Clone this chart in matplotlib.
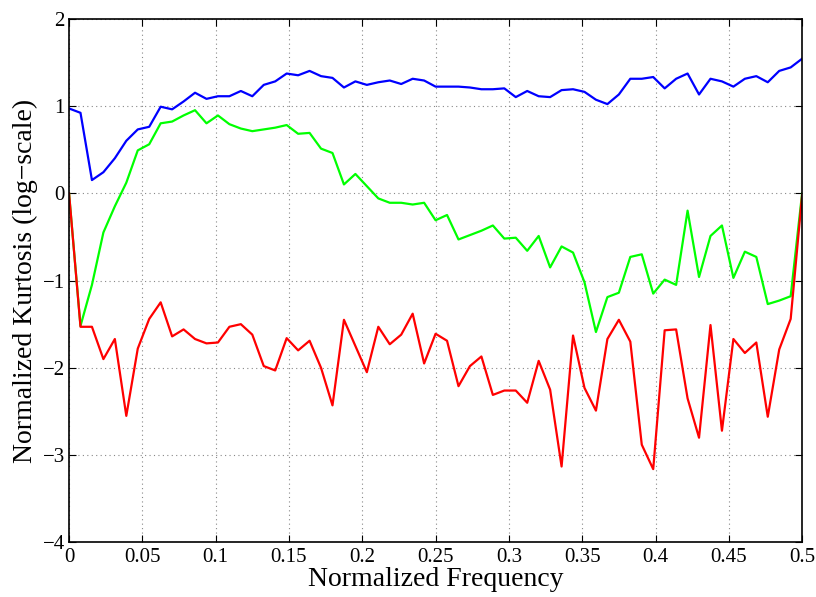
import numpy as np
import matplotlib.pyplot as plt

plt.rcParams['font.family'] = ['Liberation Serif', 'DejaVu Serif']
plt.rcParams['axes.unicode_minus'] = True

# 65 frequency bins from 0 to 0.5
freq = np.linspace(0, 0.5, 65)

blue = [0.97, 0.92, 0.15, 0.24, 0.40, 0.60, 0.73, 0.76, 0.99, 0.96,
        1.05, 1.15, 1.08, 1.11, 1.11, 1.17, 1.11, 1.24, 1.28, 1.37,
        1.35, 1.40, 1.34, 1.32, 1.21, 1.28, 1.24, 1.27, 1.29, 1.25,
        1.31, 1.29, 1.22, 1.22, 1.22, 1.21, 1.19, 1.19, 1.20, 1.10,
        1.17, 1.11, 1.10, 1.18, 1.19, 1.16, 1.07, 1.02, 1.13, 1.31,
        1.31, 1.33, 1.20, 1.31, 1.37, 1.13, 1.31, 1.28, 1.22, 1.31,
        1.34, 1.27, 1.40, 1.44, 1.54]

green = [0.0, -1.52, -1.05, -0.45, -0.15, 0.12, 0.49, 0.56, 0.80, 0.82,
         0.89, 0.95, 0.80, 0.89, 0.79, 0.74, 0.71, 0.73, 0.75, 0.78,
         0.68, 0.69, 0.51, 0.46, 0.10, 0.22, 0.08, -0.06, -0.11, -0.11,
         -0.13, -0.11, -0.31, -0.25, -0.53, -0.48, -0.43, -0.37, -0.52, -0.51,
         -0.66, -0.49, -0.85, -0.61, -0.68, -1.02, -1.59, -1.19, -1.14, -0.73,
         -0.70, -1.15, -0.99, -1.05, -0.20, -0.96, -0.49, -0.37, -0.97, -0.67,
         -0.73, -1.27, -1.23, -1.18, 0.0]

red = [0.0, -1.53, -1.53, -1.90, -1.67, -2.55, -1.78, -1.44, -1.25, -1.64,
       -1.56, -1.67, -1.72, -1.71, -1.53, -1.50, -1.62, -1.98, -2.03, -1.66,
       -1.80, -1.69, -2.00, -2.43, -1.45, -1.75, -2.05, -1.53, -1.73, -1.62,
       -1.38, -1.95, -1.61, -1.69, -2.21, -1.98, -1.87, -2.31, -2.26, -2.26,
       -2.40, -1.92, -2.25, -3.13, -1.63, -2.23, -2.49, -1.67, -1.45, -1.70,
       -2.88, -3.16, -1.57, -1.56, -2.35, -2.80, -1.51, -2.72, -1.67, -1.83,
       -1.71, -2.56, -1.79, -1.44, -0.02]

xticks = [0, 0.05, 0.1, 0.15, 0.2, 0.25, 0.3, 0.35, 0.4, 0.45, 0.5]
xticklabels = ['0', '0.05', '0.1', '0.15', '0.2', '0.25', '0.3', '0.35', '0.4', '0.45', '0.5']
yticks = [-4, -3, -2, -1, 0, 1, 2]

fig = plt.figure(figsize=(8.16, 5.97), dpi=100)
ax = fig.add_axes([0.0846, 0.0913, 0.8984, 0.8777])

ax.plot(freq, blue, color='#0000ff', lw=1.6)
ax.plot(freq, green, color='#00ff00', lw=1.6)
ax.plot(freq, red, color='#ff0000', lw=1.6)

ax.set_xlim(0, 0.5)
ax.set_ylim(-4, 2)
ax.set_xticks(xticks)
ax.set_xticklabels(xticklabels)
ax.set_yticks(yticks)
ax.grid(True, linestyle=(0, (1, 3)), color='#888888', lw=0.8)
ax.tick_params(direction='in', top=True, right=True, labelsize=15, length=5)
ax.tick_params(axis='x', pad=4)
ax.tick_params(axis='y', pad=3)
for s in ax.spines.values():
    s.set_linewidth(1.2)

ax.set_xlabel('Normalized Frequency', fontsize=20, labelpad=0)
ax.set_ylabel('Normalized Kurtosis (log\u2212scale)', fontsize=20, labelpad=3)

fig.savefig('out.png', dpi=100)
